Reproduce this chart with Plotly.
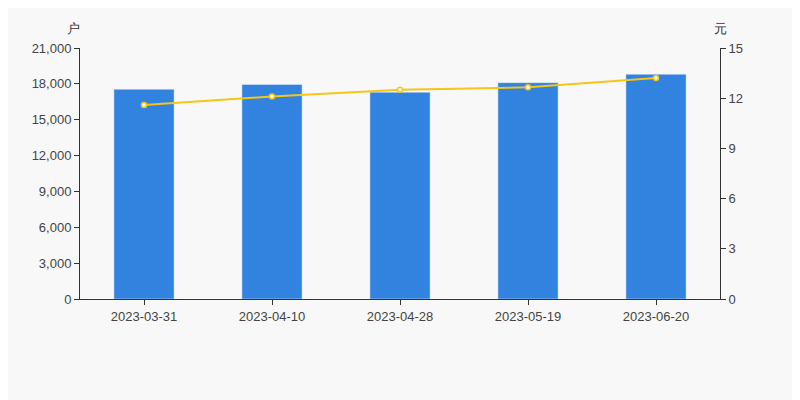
import plotly.graph_objects as go

dates = ['2023-03-31', '2023-04-10', '2023-04-28', '2023-05-19', '2023-06-20']
holders = [17550, 17950, 17300, 18100, 18800]
price = [11.6, 12.1, 12.5, 12.65, 13.2]

fig = go.Figure()
fig.add_trace(go.Bar(x=dates, y=holders, marker_color='#3282e0', width=0.47))
fig.add_trace(go.Scatter(x=dates, y=price, yaxis='y2', mode='lines+markers',
                         line=dict(color='#f5c518', width=2),
                         marker=dict(size=5, color='white', line=dict(color='#f5c518', width=1.5))))

axis_style = dict(showgrid=False, showline=True, linecolor='#333', ticks='outside',
                  tickcolor='#333', ticklen=5)

# the page body adds an 8px offset, so the margins compensate for it
fig.update_layout(
    width=800, height=400, showlegend=False,
    paper_bgcolor='#f8f8f8', plot_bgcolor='#f8f8f8',
    margin=dict(l=72, r=88, t=40, b=109),
    font=dict(family='Liberation Sans, Arial', size=13, color='#444'),
    xaxis=dict(type='category', **axis_style),
    yaxis=dict(range=[0, 21000], dtick=3000, tickformat=',', **axis_style),
    yaxis2=dict(range=[0, 15], dtick=3, overlaying='y', side='right', **axis_style),
    annotations=[
        dict(text='户', x=0, y=1, xref='paper', yref='paper', xanchor='right', yanchor='bottom',
             xshift=2, yshift=10, showarrow=False, font=dict(size=13, color='#333')),
        dict(text='元', x=1, y=1, xref='paper', yref='paper', xanchor='center', yanchor='bottom',
             yshift=10, showarrow=False, font=dict(size=13, color='#333')),
    ],
)
fig.write_html("out.html")
